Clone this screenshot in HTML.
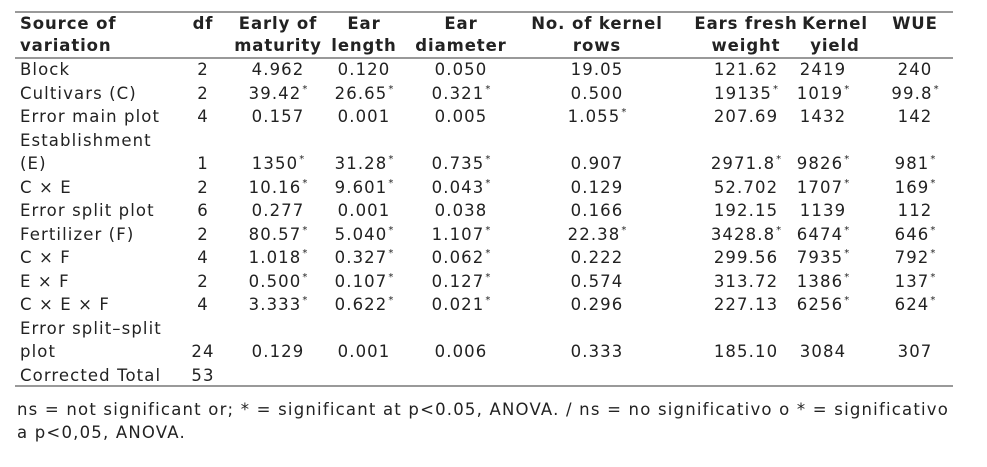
<!DOCTYPE html>
<html><head><meta charset="utf-8"><style>
body{margin:0;background:#fff;width:987px;height:467px;position:relative;overflow:hidden;font-family:"DejaVu Sans","Liberation Sans",sans-serif;font-size:16.5px;letter-spacing:1.1px;color:#222}
.c{position:absolute;width:160px;text-align:center;line-height:24px;white-space:nowrap}
.l{position:absolute;left:20px;line-height:24px;white-space:nowrap}
.b{font-weight:bold;letter-spacing:0.9px}
.s{font-size:10px;position:relative;top:-7px;margin-left:1px;letter-spacing:0}
.hr{position:absolute;left:15px;width:938px;height:2px;background:#999}
.fn{position:absolute;left:17px;line-height:23px;font-size:16.5px;letter-spacing:1.2px;white-space:nowrap}
</style></head><body>
<div class="hr" style="top:11px"></div>
<div class="hr" style="top:57px"></div>
<div class="hr" style="top:385px"></div>
<div id="t"></div>
<div class="fn" style="top:398px">ns = not significant or; * = significant at p&lt;0.05, ANOVA. / ns = no significativo o * = significativo</div>
<div class="fn" style="top:421px">a p&lt;0,05, ANOVA.</div>
<script>
const cx=[203,278,364,461,597,746,823,915];
const H=[["df","Early of","Ear","Ear","No. of kernel","Ears fresh","Kernel","WUE"],["","maturity","length","diameter","rows","weight","yield",""]];
const R=[
["Block","2","4.962","0.120","0.050","19.05","121.62","2419","240"],
["Cultivars (C)","2","39.42*","26.65*","0.321*","0.500","19135*","1019*","99.8*"],
["Error main plot","4","0.157","0.001","0.005","1.055*","207.69","1432","142"],
["Establishment"],
["(E)","1","1350*","31.28*","0.735*","0.907","2971.8*","9826*","981*"],
["C × E","2","10.16*","9.601*","0.043*","0.129","52.702","1707*","169*"],
["Error split plot","6","0.277","0.001","0.038","0.166","192.15","1139","112"],
["Fertilizer (F)","2","80.57*","5.040*","1.107*","22.38*","3428.8*","6474*","646*"],
["C × F","4","1.018*","0.327*","0.062*","0.222","299.56","7935*","792*"],
["E × F","2","0.500*","0.107*","0.127*","0.574","313.72","1386*","137*"],
["C × E × F","4","3.333*","0.622*","0.021*","0.296","227.13","6256*","624*"],
["Error split–split"],
["plot","24","0.129","0.001","0.006","0.333","185.10","3084","307"],
["Corrected Total","53"]];
let h="";
const f=s=>s.endsWith("*")?s.slice(0,-1)+'<span class="s">*</span>':s;
h+=`<div class="l b" style="top:12px">Source of</div><div class="l b" style="top:34px">variation</div>`;
H.forEach((r,i)=>r.forEach((s,j)=>{let x=cx[j];if(j==6)x=835;if(s)h+=`<div class="c b" style="left:${x-80}px;top:${12+i*22}px">${s}</div>`}));
R.forEach((r,i)=>{const t=58+i*23.5;h+=`<div class="l" style="top:${t}px">${r[0]}</div>`;
for(let j=1;j<r.length;j++){const x=cx[j-1];h+=`<div class="c" style="left:${x-80}px;top:${t}px">${f(r[j])}</div>`}});
document.getElementById("t").innerHTML=h;
</script>
</body></html>
